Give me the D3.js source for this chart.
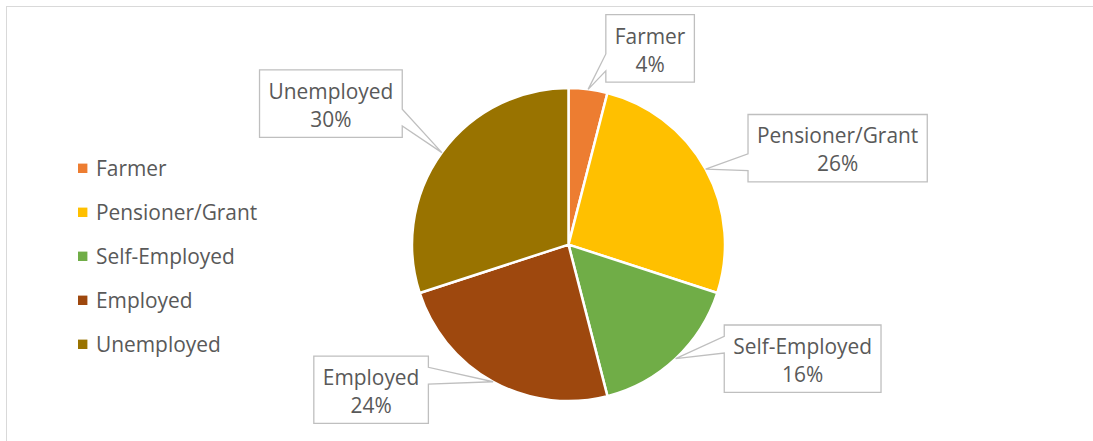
<!DOCTYPE html>
<html>
<head>
<meta charset="utf-8">
<script src="https://cdn.jsdelivr.net/npm/d3@7/dist/d3.min.js"></script>
<style>
  html, body { margin: 0; padding: 0; background: #fff; }
  svg { display: block; }
  text { font-family: "Open Sans", "Noto Sans", sans-serif; fill: #595959; }
</style>
</head>
<body>
<svg id="chart" width="1093" height="441"></svg>
<script>
// Household income source shares
const categories = ["Farmer", "Pensioner/Grant", "Self-Employed", "Employed", "Unemployed"];
const shares = [4, 26, 16, 24, 30];
const sliceColors = ["#ED7D31", "#FFC000", "#70AD47", "#9E480E", "#997300"];
// Callout box centre offsets from the slice edge point they point to
const calloutOffsets = [[62, -41], [132, -21], [127, 0], [-122, 8], [-111, -49]];

const W = 1093, H = 441;
const cx = 568.5, cy = 244.6, R = 156.5;
const fontSize = 20.9;

const svg = d3.select("#chart");

// Chart area frame
svg.append("rect")
  .attr("x", 6.5).attr("y", 6.5)
  .attr("width", 1100).attr("height", 500)
  .attr("fill", "#fff")
  .attr("stroke", "#d9d9d9").attr("stroke-width", 1);

const data = categories.map((c, i) => ({ name: c, value: shares[i], color: sliceColors[i], off: calloutOffsets[i] }));

const pie = d3.pie().sort(null).value(d => d.value);
const arc = d3.arc().innerRadius(0).outerRadius(R);
const arcs = pie(data);

const g = svg.append("g").attr("transform", `translate(${cx},${cy})`);

g.selectAll("path.slice")
  .data(arcs)
  .join("path")
  .attr("class", "slice")
  .attr("d", arc)
  .attr("fill", d => d.data.color)
  .attr("stroke", "#fff")
  .attr("stroke-width", 2.5)
  .attr("stroke-linejoin", "round");

// Callout labels (rectangular callout with wedge)
const labels = svg.append("g");
arcs.forEach(a => {
  const mid = (a.startAngle + a.endAngle) / 2;
  const tipX = cx + R * Math.sin(mid);
  const tipY = cy - R * Math.cos(mid);
  const bcx = tipX + a.data.off[0];
  const bcy = tipY + a.data.off[1];

  const lg = labels.append("g");
  const t1 = lg.append("text")
    .attr("text-anchor", "middle")
    .attr("font-size", fontSize)
    .attr("x", bcx).attr("y", bcy - 4.8)
    .text(a.data.name);
  lg.append("text")
    .attr("text-anchor", "middle")
    .attr("font-size", fontSize)
    .attr("x", bcx).attr("y", bcy + 23.2)
    .text(d3.format(".0%")(a.data.value / d3.sum(shares)));

  const tw = t1.node().getComputedTextLength();
  const w = tw + 18, h = 67.4;
  const l = bcx - w / 2, t = bcy - h / 2, r = l + w, b = t + h;

  // wedge geometry
  const dx = tipX - bcx, dy = tipY - bcy;
  const dq = dx * h / w;
  const horizontal = Math.abs(dy) <= Math.abs(dq);
  const y1 = t + h * (dy > 0 ? 7 : 2) / 12, y2 = t + h * (dy > 0 ? 10 : 5) / 12;
  const x1 = l + w * (dx > 0 ? 7 : 2) / 12, x2 = l + w * (dx > 0 ? 10 : 5) / 12;
  const p = d3.path();
  p.moveTo(l, t);
  if (!horizontal && dy < 0) { p.lineTo(x1, t); p.lineTo(tipX, tipY); p.lineTo(x2, t); }
  p.lineTo(r, t);
  if (horizontal && dx > 0) { p.lineTo(r, y1); p.lineTo(tipX, tipY); p.lineTo(r, y2); }
  p.lineTo(r, b);
  if (!horizontal && dy > 0) { p.lineTo(x2, b); p.lineTo(tipX, tipY); p.lineTo(x1, b); }
  p.lineTo(l, b);
  if (horizontal && dx < 0) { p.lineTo(l, y2); p.lineTo(tipX, tipY); p.lineTo(l, y1); }
  p.closePath();

  lg.insert("path", "text")
    .attr("d", p.toString())
    .attr("fill", "#fff")
    .attr("stroke", "#bfbfbf")
    .attr("stroke-width", 1.3);
});

// Legend
const legend = svg.append("g");
const legendX = 78, legendY0 = 168.3, legendStep = 44;
data.forEach((d, i) => {
  const y = legendY0 + i * legendStep;
  legend.append("rect")
    .attr("x", legendX).attr("y", y - 4.7)
    .attr("width", 9.4).attr("height", 9.4)
    .attr("fill", d.color);
  legend.append("text")
    .attr("x", 96).attr("y", y + 7.6)
    .attr("font-size", fontSize)
    .text(d.name);
});
</script>
</body>
</html>
